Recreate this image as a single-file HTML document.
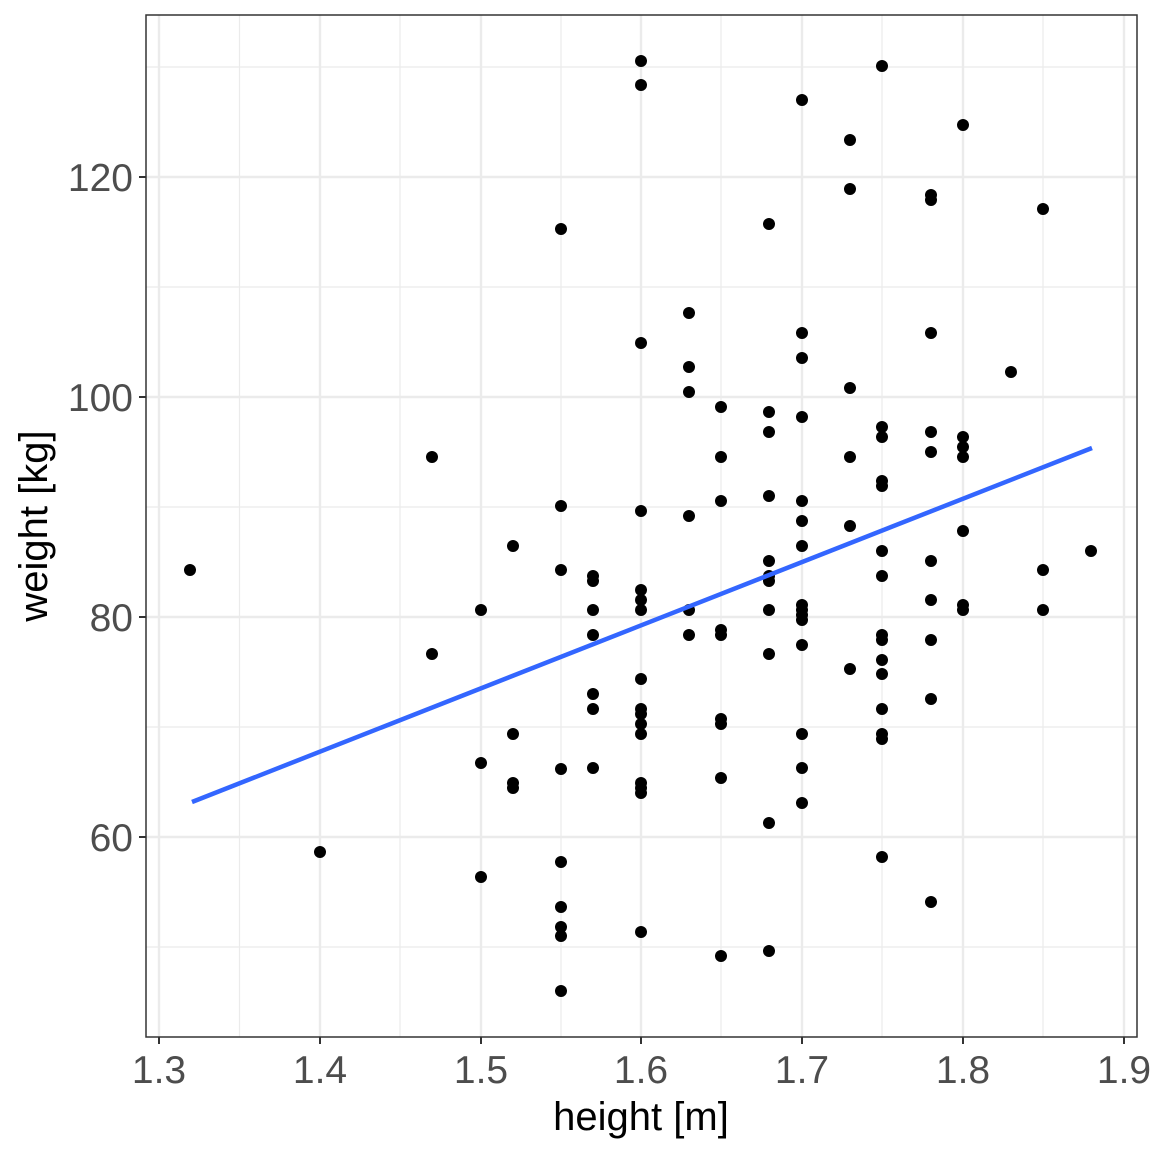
<!DOCTYPE html>
<html><head><style>body{margin:0;background:#fff}</style></head><body>
<svg width="1152" height="1152" xmlns="http://www.w3.org/2000/svg" font-family="Liberation Sans, sans-serif">
<rect width="1152" height="1152" fill="#fff"/>
<g stroke="#ebebeb" stroke-width="1.2">
<line x1="146" x2="1137" y1="947" y2="947"/><line x1="146" x2="1137" y1="727" y2="727"/><line x1="146" x2="1137" y1="507" y2="507"/><line x1="146" x2="1137" y1="287" y2="287"/><line x1="146" x2="1137" y1="67" y2="67"/>
<line y1="15" y2="1037" x1="239.5" x2="239.5"/><line y1="15" y2="1037" x1="400" x2="400"/><line y1="15" y2="1037" x1="561" x2="561"/><line y1="15" y2="1037" x1="721" x2="721"/><line y1="15" y2="1037" x1="882" x2="882"/><line y1="15" y2="1037" x1="1043" x2="1043"/>
</g>
<g stroke="#ebebeb" stroke-width="2.4">
<line x1="146" x2="1137" y1="837" y2="837"/><line x1="146" x2="1137" y1="617" y2="617"/><line x1="146" x2="1137" y1="397" y2="397"/><line x1="146" x2="1137" y1="177" y2="177"/>
<line y1="15" y2="1037" x1="159" x2="159"/><line y1="15" y2="1037" x1="320" x2="320"/><line y1="15" y2="1037" x1="481" x2="481"/><line y1="15" y2="1037" x1="641" x2="641"/><line y1="15" y2="1037" x1="802" x2="802"/><line y1="15" y2="1037" x1="963" x2="963"/><line y1="15" y2="1037" x1="1124" x2="1124"/>
</g>
<g fill="#000" id="pts"></g>
<line x1="192" y1="802" x2="1092" y2="448" stroke="#3366ff" stroke-width="4.5"/>
<rect x="146" y="15" width="991" height="1022" fill="none" stroke="#333" stroke-width="1.5"/>
<g stroke="#333" stroke-width="2">
<line x1="139" x2="146" y1="837" y2="837"/><line x1="139" x2="146" y1="617" y2="617"/><line x1="139" x2="146" y1="397" y2="397"/><line x1="139" x2="146" y1="177" y2="177"/>
<line y1="1037" y2="1044" x1="159" x2="159"/><line y1="1037" y2="1044" x1="320" x2="320"/><line y1="1037" y2="1044" x1="481" x2="481"/><line y1="1037" y2="1044" x1="641" x2="641"/><line y1="1037" y2="1044" x1="802" x2="802"/><line y1="1037" y2="1044" x1="963" x2="963"/><line y1="1037" y2="1044" x1="1124" x2="1124"/>
</g>
<g fill="#4d4d4d" font-size="39" text-anchor="end">
<text x="133" y="851">60</text><text x="133" y="631">80</text><text x="133" y="411">100</text><text x="133" y="191">120</text>
</g>
<g fill="#4d4d4d" font-size="39" text-anchor="middle">
<text x="159" y="1083">1.3</text><text x="320" y="1083">1.4</text><text x="481" y="1083">1.5</text><text x="641" y="1083">1.6</text><text x="802" y="1083">1.7</text><text x="963" y="1083">1.8</text><text x="1124" y="1083">1.9</text>
</g>
<text x="641" y="1130" font-size="40" text-anchor="middle">height [m]</text>
<text transform="translate(47,526) rotate(-90)" font-size="40" text-anchor="middle">weight [kg]</text>
</svg>
<script>
var p=[[190,570],[320,852],[432,457],[432,654],[481,610],[481,763],[481,877],[513,546],[513,734],[513,783],[513,788],[561,229],[561,506],[561,570],[561,769],[561,862],[561,907],[561,927],[561,936],[561,991],[593,576],[593,581],[593,610],[593,635],[593,694],[593,709],[593,768],[641,61],[641,85],[641,343],[641,511],[641,590],[641,600],[641,610],[641,679],[641,709],[641,714],[641,724],[641,734],[641,783],[641,788],[641,793],[641,932],[689,313],[689,367],[689,392],[689,516],[689,610],[689,635],[721,407],[721,457],[721,501],[721,630],[721,635],[721,719],[721,724],[721,778],[721,956],[769,224],[769,412],[769,432],[769,496],[769,561],[769,576],[769,581],[769,610],[769,654],[769,823],[769,951],[802,100],[802,333],[802,358],[802,417],[802,501],[802,521],[802,546],[802,605],[802,610],[802,615],[802,620],[802,645],[802,734],[802,768],[802,803],[850,140],[850,189],[850,388],[850,457],[850,526],[850,669],[882,66],[882,427],[882,437],[882,481],[882,486],[882,551],[882,576],[882,635],[882,640],[882,660],[882,674],[882,709],[882,734],[882,739],[882,857],[931,195],[931,200],[931,333],[931,432],[931,452],[931,561],[931,600],[931,640],[931,699],[931,902],[963,125],[963,437],[963,447],[963,457],[963,531],[963,605],[963,610],[1011,372],[1043,209],[1043,570],[1043,610],[1091,551]];
var g=document.getElementById('pts'),s='';
p.forEach(function(a){s+='<circle cx="'+a[0]+'" cy="'+a[1]+'" r="6"/>';});
g.innerHTML=s;
</script>
</body></html>
